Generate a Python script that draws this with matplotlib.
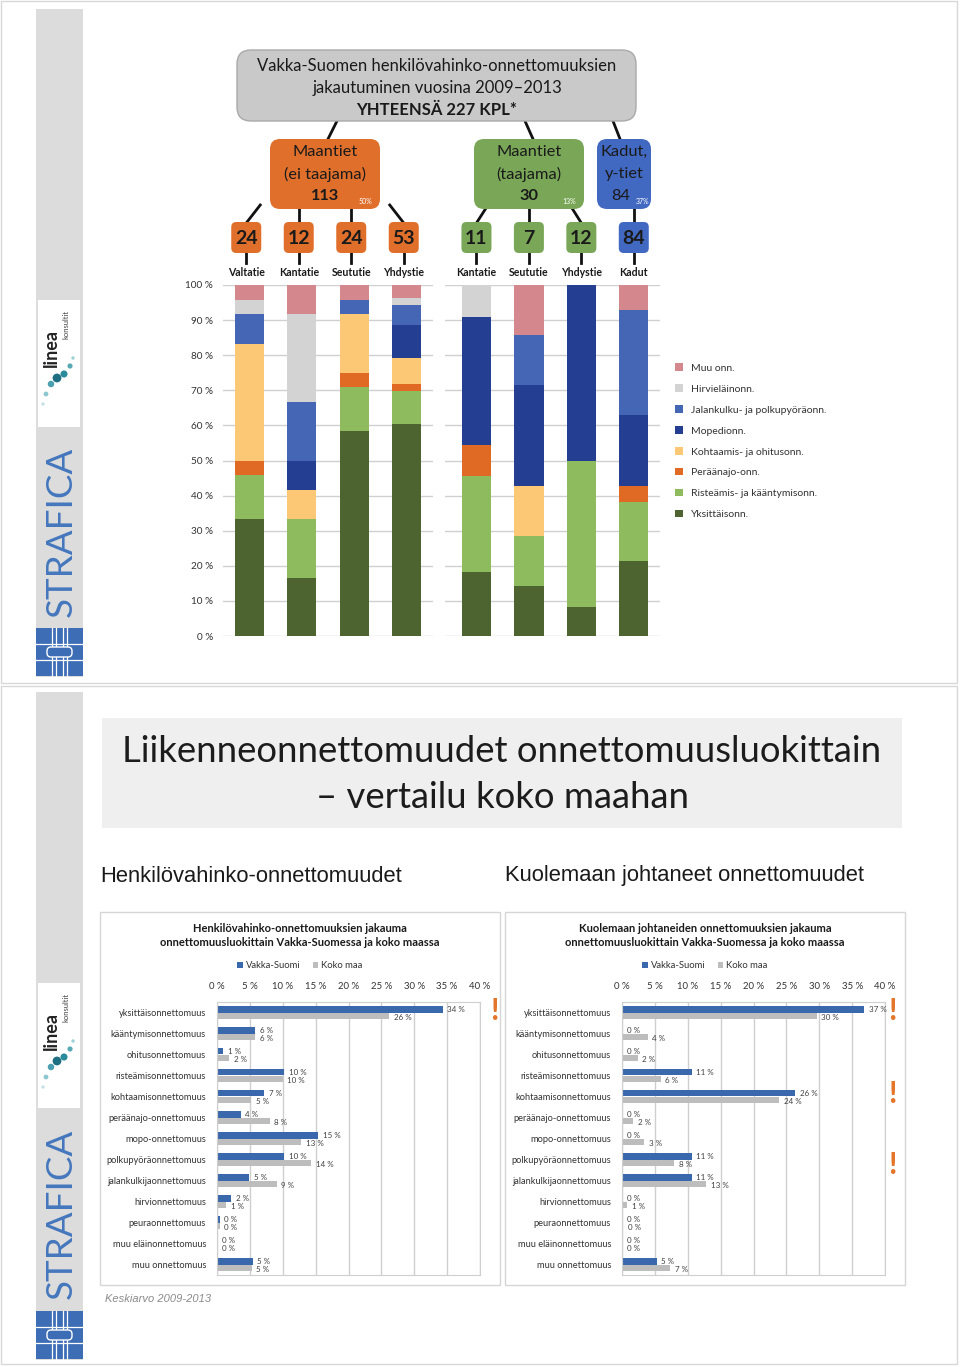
import numpy as np
import matplotlib.pyplot as plt
from matplotlib.patches import FancyBboxPatch, Rectangle

plt.rcParams['font.family'] = ['Lato', 'DejaVu Sans']

W, H = 960, 1367

# ---- top slide: injury accidents 2009-2013 by road type (counts) ----
roads_rural = ["Valtatie", "Kantatie", "Seututie", "Yhdystie"]
roads_urban = ["Kantatie", "Seututie", "Yhdystie", "Kadut"]
group_names = ["Maantiet\n(ei taajama)", "Maantiet\n(taajama)", "Kadut,\ny-tiet"]

acc_types = ["Yksittäisonn.", "Risteämis- ja kääntymisonn.", "Peräänajo-onn.",
             "Kohtaamis- ja ohitusonn.", "Mopedionn.",
             "Jalankulku- ja polkupyöräonn.", "Hirvieläinonn.", "Muu onn."]
# order: 4 rural roads, 3 urban maantiet, kadut
yksittais = [8, 2, 14, 32, 2, 1, 1, 18]
risteamis = [3, 2, 3, 5, 3, 1, 5, 14]
peraanajo = [1, 0, 1, 1, 1, 0, 0, 4]
kohtaamis = [8, 1, 4, 4, 0, 1, 0, 0]
mopedi = [0, 1, 0, 5, 4, 2, 6, 17]
jalankulku = [2, 2, 1, 3, 0, 1, 0, 25]
hirvi = [1, 3, 0, 1, 1, 0, 0, 0]
muu = [1, 1, 1, 2, 0, 1, 0, 6]
type_colors = ["#4e6430", "#8dbb5e", "#e06a24", "#fdc875",
               "#243f91", "#4466b4", "#d3d3d3", "#d4878c"]

# ---- bottom slide: share by accident class, Vakka-Suomi vs whole country ----
classes = ["yksittäisonnettomuus", "kääntymisonnettomuus", "ohitusonnettomuus",
           "risteämisonnettomuus", "kohtaamisonnettomuus", "peräänajo-onnettomuus",
           "mopo-onnettomuus", "polkupyöräonnettomuus", "jalankulkijaonnettomuus",
           "hirvionnettomuus", "peuraonnettomuus", "muu eläinonnettomuus",
           "muu onnettomuus"]
inj_vakka = [34.3, 5.8, 0.9, 10.2, 7.2, 3.6, 15.4, 10.2, 4.9, 2.2, 0.4, 0.1, 5.4]
inj_koko = [26.2, 5.8, 1.9, 10.0, 5.2, 8.0, 12.8, 14.3, 9.1, 1.4, 0.4, 0.1, 5.3]
fat_vakka = [36.8, 0.0, 0.0, 10.6, 26.3, 0.0, 0.0, 10.6, 10.6, 0.0, 0.0, 0.0, 5.3]
fat_koko = [29.6, 3.9, 2.4, 5.9, 23.9, 1.7, 3.4, 7.9, 12.8, 0.8, 0.2, 0.1, 7.3]

fig = plt.figure(figsize=(W / 100, H / 100), dpi=100)
bg = fig.add_axes([0, 0, 1, 1])
bg.set_xlim(0, W)
bg.set_ylim(H, 0)
bg.axis("off")


def px_axes(x0, y0, x1, y1):
    return fig.add_axes([x0 / W, 1 - y1 / H, (x1 - x0) / W, (y1 - y0) / H])


def rbox(x, y, w, h, fc, ec="none", r=8, lw=1, z=2):
    bg.add_patch(FancyBboxPatch((x, y), w, h, boxstyle=f"round,pad=0,rounding_size={r}",
                                fc=fc, ec=ec, lw=lw, zorder=z))


def sidebar(y0, y1, ly0, ly1, sy, gy0):
    bg.add_patch(Rectangle((36, y0), 47, y1 - y0, fc="#dcdcdc", ec="none", zorder=1))
    # linea konsultit
    bg.add_patch(Rectangle((38, ly0), 42, ly1 - ly0, fc="white", ec="none", zorder=2))
    bg.text(51, ly0 + 48, "linea", rotation=90, ha="center", va="center",
            fontsize=13, fontweight="bold", color="#222222", zorder=3)
    bg.text(66, ly0 + 24, "konsultit", rotation=90, ha="center", va="center",
            fontsize=5.5, color="#444444", zorder=3)
    dots_x = [73, 70, 64, 57, 51, 46, 43]
    dots_y = [ly0 + 58, ly0 + 66, ly0 + 74, ly0 + 78, ly0 + 84, ly0 + 94, ly0 + 104]
    dots_s = [6, 14, 26, 40, 22, 12, 6]
    bg.scatter(dots_x, dots_y, s=dots_s, color=["#9fd0d6", "#59a9b5", "#2b8a9c", "#1f6f83",
                                                 "#4aa0b0", "#8cc6cf", "#c4e2e6"], zorder=3, lw=0)
    bg.text(61, sy, "STRAFICA", rotation=90, ha="center", va="center",
            fontsize=26.5, fontweight="normal", color="#4577bd", zorder=3)
    # strafica mark
    bg.add_patch(Rectangle((36, gy0), 47, 48, fc="#3d6db5", ec="none", zorder=2))
    for yy in (gy0 + 16, gy0 + 32):
        bg.plot([36, 83], [yy, yy], color="white", lw=0.9, zorder=3)
    for xx in (52, 56, 63, 67):
        bg.plot([xx, xx], [gy0, gy0 + 48], color="white", lw=0.9, zorder=3)
    rbox(47, gy0 + 19, 25, 10, "#3d6db5", ec="white", r=4, lw=1.0, z=4)


# slide frames
bg.add_patch(Rectangle((1, 1), 956, 682, fc="none", ec="#d8d8d8", lw=1, zorder=0))
bg.add_patch(Rectangle((1, 686), 956, 678, fc="none", ec="#d8d8d8", lw=1, zorder=0))
sidebar(9, 677, 300, 427, 532, 628)
sidebar(692, 1360, 983, 1108, 1214, 1311)

# ---------- stacked 100 % bars ----------
stack = [yksittais, risteamis, peraanajo, kohtaamis, mopedi, jalankulku, hirvi, muu]
counts = np.array(stack, dtype=float)
totals = counts.sum(axis=0)
shares = counts / totals * 100

ax1 = px_axes(223, 285, 433, 636)
ax2 = px_axes(445, 285, 660, 636)
bar_w = 0.56
handles = []
for ax, cols, xl in ((ax1, slice(0, 4), (-0.5, 3.5)), (ax2, slice(4, 8), (-0.6, 3.5))):
    sub = shares[:, cols]
    x = np.arange(sub.shape[1])
    bottom = np.zeros(sub.shape[1])
    hs = []
    for k in range(sub.shape[0]):
        b = ax.bar(x, sub[k], bar_w, bottom=bottom, color=type_colors[k],
                   label=acc_types[k], zorder=2)
        hs.append(b)
        bottom += sub[k]
    handles = hs
    ax.set_xlim(*xl)
    ax.set_ylim(0, 100)
    ax.set_yticks(np.arange(0, 101, 10))
    ax.grid(axis="y", color="#d0d0d0", lw=1.0, zorder=0)
    ax.set_xticks([])
    for s in ax.spines.values():
        s.set_visible(False)
    ax.tick_params(axis="y", length=0, labelsize=7.2, labelcolor="#333333", pad=7)
    ax.patch.set_alpha(0)
ax1.set_yticklabels([f"{v} %" for v in range(0, 101, 10)])
ax2.set_yticklabels([])

fig.legend(handles[::-1], acc_types[::-1], loc="upper left",
           bbox_to_anchor=(666 / W, 1 - 354 / H), frameon=False, fontsize=7.5,
           handlelength=0.7, handleheight=0.7, handletextpad=0.8, labelspacing=1.12,
           labelcolor="#333333")

# ---------- tree above the bars ----------
group_cols = [slice(0, 4), slice(4, 7), slice(7, 8)]
group_tot = [int(totals[c].sum()) for c in group_cols]
grand = int(totals.sum())
box_fc = ["#e06f2b", "#79a757", "#4269c2"]

rbox(237, 50, 399, 71, "#c9c9c9", ec="#a9a9a9", r=14)
bg.text(437, 66, "Vakka-Suomen henkilövahinko-onnettomuuksien", ha="center", va="center",
        fontsize=12, color="#1a1a1a", zorder=3)
bg.text(437, 88, "jakautuminen vuosina 2009–2013", ha="center", va="center",
        fontsize=12, color="#1a1a1a", zorder=3)
bg.text(437, 110, f"YHTEENSÄ {grand} KPL*", ha="center", va="center",
        fontsize=12, fontweight="bold", color="#1a1a1a", zorder=3)

big_boxes = [(270, 110), (474, 110), (597, 54)]
big_links = [((337, 121), (328, 139)), ((525, 121), (533, 139)), ((613, 121), (620, 139))]
pct_dx = [15, 15, 9]
for (bx, bw), (p0, p1), fc, name, tot, dx in zip(big_boxes, big_links, box_fc,
                                                   group_names, group_tot, pct_dx):
    bg.plot([p0[0], p1[0]], [p0[1], p1[1]], color="#111111", lw=2, zorder=1)
    rbox(bx, 139, bw, 70, fc, r=10)
    cx = bx + bw / 2
    l1, l2 = name.split("\n")
    bg.text(cx, 152, l1, ha="center", va="center", fontsize=11.8, color="#1a1a1a", zorder=3)
    bg.text(cx, 174, l2, ha="center", va="center", fontsize=11.8, color="#1a1a1a", zorder=3)
    bg.text(cx - (3 if bw < 60 else 0), 196, str(tot), ha="center", va="center",
            fontsize=11.8, fontweight="bold" if bw > 60 else "normal",
            color="#1a1a1a", zorder=3)
    bg.text(bx + bw - dx, 201, f"{round(tot / grand * 100)}%", ha="center", va="center",
            fontsize=5, color="white", zorder=3)

labels_all = roads_rural + roads_urban
group_of = [0, 0, 0, 0, 1, 1, 1, 2]
centers = []
for i in range(8):
    ax = ax1 if i < 4 else ax2
    centers.append(ax.transData.transform((i % 4, 0))[0] - (3 if i < 4 else 0))
for i, cx in enumerate(centers):
    g = group_of[i]
    bx, bw = big_boxes[g]
    # link from the group box
    if abs(cx - (bx + bw / 2)) < 30 or bw < 60:
        top = (cx, 208)
    elif cx < bx + bw / 2:
        top = (min(bx + 14, cx + 14), 205)
    else:
        top = (max(bx + bw - 14, cx - 14), 205)
    bg.plot([top[0], cx], [top[1], 223], color="#111111", lw=2, zorder=1)
    rbox(cx - 15, 222, 30, 31, box_fc[g], r=5)
    bg.text(cx, 238, str(int(totals[i])), ha="center", va="center", fontsize=14,
            fontweight="bold", color="#1a1a1a", zorder=3)
    bg.plot([cx, cx], [253, 263], color="#111111", lw=2, zorder=1)
    bg.text(cx, 272, labels_all[i], ha="center", va="center", fontsize=7.6,
            fontweight="bold", color="#1a1a1a", zorder=3)

# ---------- bottom slide ----------
bg.add_patch(Rectangle((102, 718), 800, 110, fc="#efefef", ec="none", zorder=1))
bg.text(502, 751, "Liikenneonnettomuudet onnettomuusluokittain", ha="center", va="center",
        fontsize=26.3, color="#1c1c1c", zorder=3)
bg.text(502, 798, "– vertailu koko maahan", ha="center", va="center",
        fontsize=26.3, color="#1c1c1c", zorder=3)
bg.text(100, 876, "Henkilövahinko-onnettomuudet", ha="left", va="center",
        fontsize=15.8, family="Liberation Sans", color="#1a1a1a")
bg.text(505, 876, "Kuolemaan johtaneet onnettomuudet", ha="left", va="center",
        fontsize=15.8, family="Liberation Sans", color="#1a1a1a")
bg.text(105, 1299, "Keskiarvo 2009-2013", ha="left", va="center", fontsize=8,
        style="italic", family="Liberation Sans", color="#8a8a8a")


def compare_panel(x0, title, vs, km, mark_x, marks):
    bg.add_patch(Rectangle((x0, 912), 400, 373, fc="white", ec="#d6d6d6", lw=1, zorder=1))
    bg.text(x0 + 200, 928, title[0], ha="center", va="center", fontsize=8,
            fontweight="bold", color="#1a1a1a", zorder=3)
    bg.text(x0 + 200, 943, title[1], ha="center", va="center", fontsize=8,
            fontweight="bold", color="#1a1a1a", zorder=3)
    ax = px_axes(x0 + 117, 1002, x0 + 380, 1275)
    y = np.arange(len(classes))
    h = 0.29
    b1 = ax.barh(y - h / 2, vs, h, color="#3a68ad", zorder=2, label="Vakka-Suomi")
    b2 = ax.barh(y + h / 2, km, h, color="#bdbdbd", zorder=2, label="Koko maa")
    for yi, v in zip(y, vs):
        ax.text(v + 0.7, yi - h / 2, f"{int(v + 0.5)} %", ha="left", va="center",
                fontsize=5.8, color="#404040")
    for yi, v in zip(y, km):
        ax.text(v + 0.7, yi + h / 2 + 0.08, f"{int(v + 0.5)} %", ha="left", va="center",
                fontsize=5.8, color="#404040")
    ax.set_xlim(0, 40)
    ax.set_ylim(len(classes) - 0.5, -0.5)
    ax.set_xticks(np.arange(0, 41, 5))
    ax.set_xticklabels([f"{v} %" for v in range(0, 41, 5)])
    ax.xaxis.tick_top()
    ax.set_yticks(y)
    ax.set_yticklabels(classes)
    ax.tick_params(length=0, labelsize=6.7, labelcolor="#333333")
    ax.tick_params(axis="x", pad=8, labelsize=6.9)
    ax.tick_params(axis="y", pad=8)
    ax.grid(axis="x", color="#cfcfcf", lw=1, zorder=0)
    for s in ax.spines.values():
        s.set_color("#cfcfcf")
    ax.legend(handles=[b1, b2], loc="center", ncol=2, frameon=False, fontsize=6.8,
              bbox_to_anchor=((x0 + 200 - (x0 + 117)) / 263, 1 + 36 / 273),
              handlelength=0.6, handleheight=0.6, handletextpad=0.3, columnspacing=1.3,
              labelcolor="#333333")
    for my in marks:
        bg.text(mark_x, my, "!", ha="center", va="center", fontsize=22,
                fontweight="bold", color="#e3762b", zorder=3)


compare_panel(100, ("Henkilövahinko-onnettomuuksien jakauma",
                    "onnettomuusluokittain Vakka-Suomessa ja koko maassa"),
              inj_vakka, inj_koko, 494, [1011])
compare_panel(505, ("Kuolemaan johtaneiden onnettomuuksien jakauma",
                    "onnettomuusluokittain Vakka-Suomessa ja koko maassa"),
              fat_vakka, fat_koko, 892, [1011, 1094, 1165])

fig.savefig("out.png", dpi=100)
